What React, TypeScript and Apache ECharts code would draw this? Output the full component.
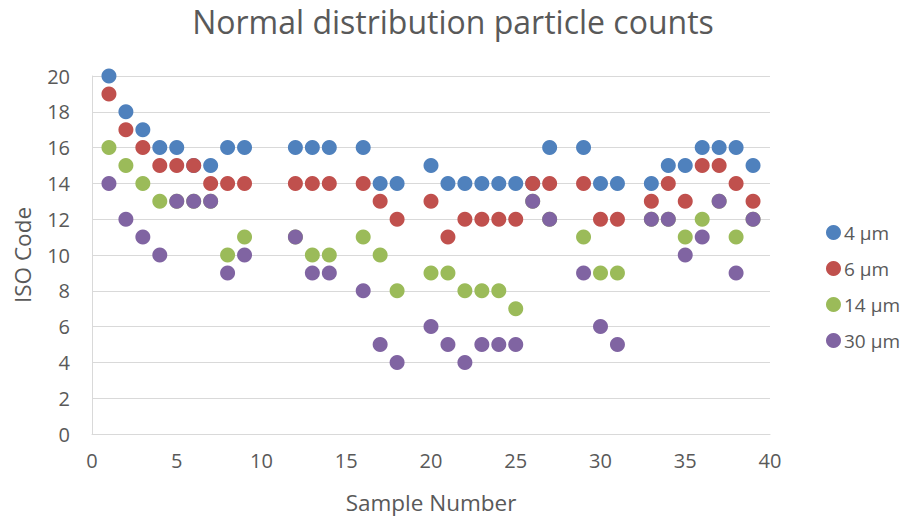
import React, { useEffect, useRef } from "react";
import * as echarts from "echarts";

const samples = [1, 2, 3, 4, 5, 6, 7, 8, 9, 12, 13, 14, 16, 17, 18, 20, 21, 22, 23, 24, 25, 26, 27, 29, 30, 31, 33, 34, 35, 36, 37, 38, 39];
const um4 = [20, 18, 17, 16, 16, 15, 15, 16, 16, 16, 16, 16, 16, 14, 14, 15, 14, 14, 14, 14, 14, 14, 16, 16, 14, 14, 14, 15, 15, 16, 16, 16, 15];
const um6 = [19, 17, 16, 15, 15, 15, 14, 14, 14, 14, 14, 14, 14, 13, 12, 13, 11, 12, 12, 12, 12, 14, 14, 14, 12, 12, 13, 14, 13, 15, 15, 14, 13];
const um14 = [16, 15, 14, 13, 13, 13, 13, 10, 11, 11, 10, 10, 11, 10, 8, 9, 9, 8, 8, 8, 7, 13, 12, 11, 9, 9, 12, 12, 11, 12, 13, 11, 12];
const um30 = [14, 12, 11, 10, 13, 13, 13, 9, 10, 11, 9, 9, 8, 5, 4, 6, 5, 4, 5, 5, 5, 13, 12, 9, 6, 5, 12, 12, 10, 11, 13, 9, 12];

const seriesNames = ["4 µm", "6 µm", "14 µm", "30 µm"];
const seriesColors = ["#4F81BD", "#C0504D", "#9BBB59", "#8064A2"];
const seriesValues = [um4, um6, um14, um30];

const FONT = "'Open Sans', 'Noto Sans', sans-serif";
const TXT = "#595959";

export default function App() {
  const ref = useRef<HTMLDivElement>(null);
  useEffect(() => {
    document.body.style.margin = "0";
    if (!ref.current) return;
    const chart = echarts.init(ref.current, undefined, { renderer: "svg" });
    chart.setOption({
      animation: false,
      backgroundColor: "#ffffff",
      title: {
        text: "Normal distribution particle counts",
        left: "center",
        top: 0,
        textStyle: { fontFamily: FONT, fontSize: 32, fontWeight: 400, color: TXT },
      },
      grid: { left: 92, right: 136, top: 76, bottom: 83 },
      legend: {
        orient: "vertical",
        left: 821,
        top: 218,
        icon: "circle",
        itemWidth: 15,
        itemHeight: 15,
        itemGap: 17,
        textStyle: { fontFamily: FONT, fontSize: 19, color: TXT, padding: [0, 0, 0, -2] },
        data: seriesNames,
      },
      xAxis: {
        type: "value",
        min: 0,
        max: 40,
        interval: 5,
        name: "Sample Number",
        nameLocation: "middle",
        nameGap: 57,
        nameTextStyle: { fontFamily: FONT, fontSize: 22.5, color: TXT },
        axisLine: { show: true, lineStyle: { color: "#D9D9D9", width: 1 } },
        axisTick: { show: false },
        axisLabel: { fontFamily: FONT, fontSize: 20, color: TXT, margin: 16 },
        splitLine: { show: false },
      },
      yAxis: {
        type: "value",
        min: 0,
        max: 20,
        interval: 2,
        name: "ISO Code",
        nameLocation: "middle",
        nameGap: 58,
        nameTextStyle: { fontFamily: FONT, fontSize: 22.5, color: TXT },
        axisLine: { show: true, lineStyle: { color: "#D9D9D9", width: 1 } },
        axisTick: { show: false },
        axisLabel: { fontFamily: FONT, fontSize: 20, color: TXT, margin: 22 },
        splitLine: { show: true, lineStyle: { color: "#D9D9D9", width: 1 } },
      },
      series: seriesNames.map((name, i) => ({
        name,
        type: "scatter",
        symbol: "circle",
        symbolSize: 15,
        itemStyle: { color: seriesColors[i], opacity: 1 },
        data: samples.map((s, j) => [s, seriesValues[i][j]]),
      })),
    });
    return () => chart.dispose();
  }, []);
  return <div ref={ref} style={{ width: 906, height: 519 }} />;
}
